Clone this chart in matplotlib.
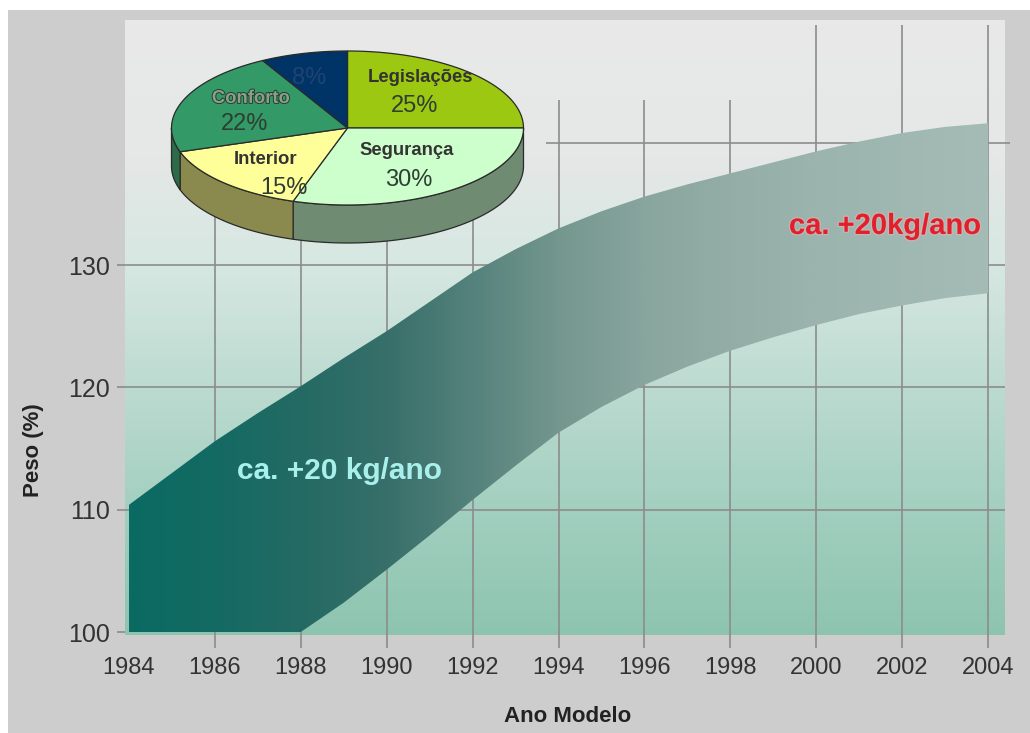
import numpy as np
import matplotlib
matplotlib.use("Agg")
import matplotlib.pyplot as plt
from matplotlib.colors import LinearSegmentedColormap
from matplotlib.patches import Polygon, Rectangle
import matplotlib.patheffects as pe

plt.rcParams["font.family"] = ["Liberation Sans", "DejaVu Sans"]

# ---- data -------------------------------------------------------------
years = [1984, 1985, 1986, 1987, 1988, 1989, 1990, 1991, 1992, 1993, 1994,
         1995, 1996, 1997, 1998, 1999, 2000, 2001, 2002, 2003, 2004]
weight_upper = [110.4, 113.0, 115.6, 117.9, 120.1, 122.4, 124.6, 127.0, 129.4,
                131.3, 133.0, 134.4, 135.6, 136.6, 137.5, 138.4, 139.3, 140.1,
                140.8, 141.3, 141.6]
weight_lower = [100.0, 100.0, 100.0, 100.0, 100.0, 102.4, 105.1, 107.9, 110.8,
                113.6, 116.3, 118.4, 120.2, 121.7, 123.0, 124.1, 125.1, 126.0,
                126.7, 127.3, 127.7]

x_ticks = [1984, 1986, 1988, 1990, 1992, 1994, 1996, 1998, 2000, 2002, 2004]
y_ticks = [100, 110, 120, 130]

pie_labels = ["Legislações", "Segurança", "Interior", "Conforto", ""]
pie_shares = [25, 30, 15, 22, 8]

# ---- figure -------------------------------------------------------------
W, H = 1030, 733
fig = plt.figure(figsize=(W / 100, H / 100), dpi=100, facecolor="white")
fig.patches.append(Rectangle((8 / W, 0), 1, (H - 10) / H, transform=fig.transFigure,
                             facecolor="#cdcdcd", edgecolor="none", zorder=-10))

# plot panel in pixel placement: left 125, right 1005, top 20, bottom 635
ax = fig.add_axes([125 / W, (H - 635) / H, 880 / W, 615 / H])
x0, x1 = 1983.907, 2004.395
y0, y1 = 99.755, 150.04
ax.set_xlim(x0, x1)
ax.set_ylim(y0, y1)
for s in ax.spines.values():
    s.set_visible(False)

# vertical background gradient
bg_cmap = LinearSegmentedColormap.from_list(
    "bg", [(0.0, "#8dc4b0"), (0.2, "#a2cfbf"), (0.4, "#bcdbd0"),
           (0.6, "#d6e7e1"), (0.78, "#e5e8e7"), (1.0, "#e9e9e9")])
grad_v = np.linspace(0, 1, 256).reshape(-1, 1)
ax.imshow(grad_v, extent=[x0, x1, y0, y1], origin="lower", aspect="auto",
          cmap=bg_cmap, zorder=0)

# grid lines (extending below the panel as tick marks)
grid_kw = dict(color="#8c8c8c", lw=1.2, clip_on=False, zorder=1)
for yr in x_ticks[1:]:
    top = 149.6 if yr >= 2000 else 143.5
    ax.vlines(yr, 98.7, top, **grid_kw)
for v in y_ticks:
    left = 1983.72
    right = 2004.4 if v > 100 else x0
    ax.hlines(v, left, right, **grid_kw)
ax.hlines(140, 1993.7, 2004.5, **grid_kw)

# weight band with horizontal gradient
band = ax.fill_between(years, weight_lower, weight_upper, facecolor="none",
                       edgecolor="none", zorder=2)
band_cmap = LinearSegmentedColormap.from_list(
    "band", [(0.0, "#0a6b62"), (0.1, "#146a63"), (0.2, "#246a64"),
             (0.3, "#386f6a"), (0.4, "#55827c"), (0.5, "#74978e"),
             (0.6, "#88a59e"), (0.7, "#94aea7"), (0.8, "#9bb4ad"),
             (1.0, "#a5bcb6")])
grad_h = np.linspace(0, 1, 512).reshape(1, -1)
im = ax.imshow(grad_h, extent=[years[0], years[-1], 100, max(weight_upper)],
               origin="lower", aspect="auto", cmap=band_cmap, zorder=3)
im.set_clip_path(band.get_paths()[0], transform=ax.transData)
ax.set_xlim(x0, x1)
ax.set_ylim(y0, y1)

# ticks and labels
ax.set_xticks(x_ticks)
ax.set_xticklabels([str(t) for t in x_ticks], fontsize=17, color="#333333")
ax.set_yticks(y_ticks)
ax.set_yticklabels([str(t) for t in y_ticks], fontsize=18, color="#333333")
ax.tick_params(axis="x", length=0, pad=16)
ax.tick_params(axis="y", length=0, pad=11)

fig.text(568 / W, 1 - 716 / H, "Ano Modelo", fontsize=16, fontweight="bold",
         color="#222222", ha="center", va="center")
fig.text(33 / W, 1 - 450 / H, "Peso (%)", fontsize=16, fontweight="bold",
         color="#222222", ha="center", va="center", rotation=90)

ax.text(1988.9, 113.2, "ca. +20 kg/ano", fontsize=21.5, fontweight="bold",
        color="#a9f0ec", ha="center", va="center", zorder=6)
ax.text(2001.6, 133.2, "ca. +20kg/ano", fontsize=21, fontweight="bold",
        color="#e2202c", ha="center", va="center", zorder=6,
        path_effects=[pe.withStroke(linewidth=2, foreground="#e7b5b8", alpha=0.5)])

# ---- 3D pie overlay (pixel coordinates, y downwards) --------------------
pax = fig.add_axes([0, 0, 1, 1], zorder=5)
pax.set_xlim(0, W)
pax.set_ylim(H, 0)
pax.axis("off")
pax.patch.set_alpha(0)

cx, cy, ra, rb, depth = 347.5, 128.0, 176.0, 77.0, 38.0
top_colors = ["#9cc812", "#ccffcc", "#ffff99", "#339966", "#003366"]
side_colors = ["#6b8a12", "#6f8c72", "#8b8a4e", "#2d6b48", "#0a2a4a"]
edge = "#2a2a2a"


def rim(t):
    return cx + ra * np.cos(t), cy - rb * np.sin(t)


bounds = 90 - 360 * np.concatenate([[0], np.cumsum(pie_shares)]) / sum(pie_shares)

# side walls: only the front half (angles between -180 and 0) is visible
for i in range(len(pie_shares)):
    a_start, a_end = bounds[i], bounds[i + 1]
    lo, hi = max(a_end, -180.0), min(a_start, 0.0)
    if hi <= lo:
        continue
    t = np.radians(np.linspace(hi, lo, 80))
    xs, ys = rim(t)
    pts = np.column_stack([np.concatenate([xs, xs[::-1]]),
                           np.concatenate([ys, ys[::-1] + depth])])
    pax.add_patch(Polygon(pts, closed=True, facecolor=side_colors[i],
                          edgecolor=edge, lw=0.9))

# top faces
for i in range(len(pie_shares)):
    t = np.radians(np.linspace(bounds[i], bounds[i + 1], 120))
    xs, ys = rim(t)
    pts = np.column_stack([np.concatenate([[cx], xs]), np.concatenate([[cy], ys])])
    pax.add_patch(Polygon(pts, closed=True, facecolor=top_colors[i],
                          edgecolor=edge, lw=0.9))

# slice labels: (radius fraction, angle shift, dx, dy) for name / percent
label_place = [(0.52, 0, 8, -22, 2, 6), (0.55, 0, 2, -12, 4, 18),
               (0.62, 0, -5, -2, 14, 26), (0.62, 0, 5, -12, -1, 14),
               (0.86, 6, 0, 0, 14, 12)]
text_dark = "#333333"
for i, (name, share) in enumerate(zip(pie_labels, pie_shares)):
    rf, dang, nx, ny, px, py = label_place[i]
    mid = np.radians((bounds[i] + bounds[i + 1]) / 2 + dang)
    mx, my = cx + rf * ra * np.cos(mid), cy - rf * rb * np.sin(mid)
    pct = f"{share}%"
    if name:
        kw = dict(fontsize=13.3, fontweight="bold", ha="center", va="center")
        if name == "Conforto":
            pax.text(mx + nx, my + ny, name, color="#8e9e8e",
                     path_effects=[pe.withStroke(linewidth=1.4, foreground="#24402e")], **kw)
        else:
            pax.text(mx + nx, my + ny, name, color=text_dark, **kw)
        pax.text(mx + px, my + py, pct, fontsize=17, color="#2e3e33",
                 ha="center", va="center")
    else:
        pax.text(mx + px, my + py, pct, fontsize=17, color="#1f4372",
                 ha="center", va="center")

fig.savefig("out.png", dpi=100, facecolor=fig.get_facecolor())
